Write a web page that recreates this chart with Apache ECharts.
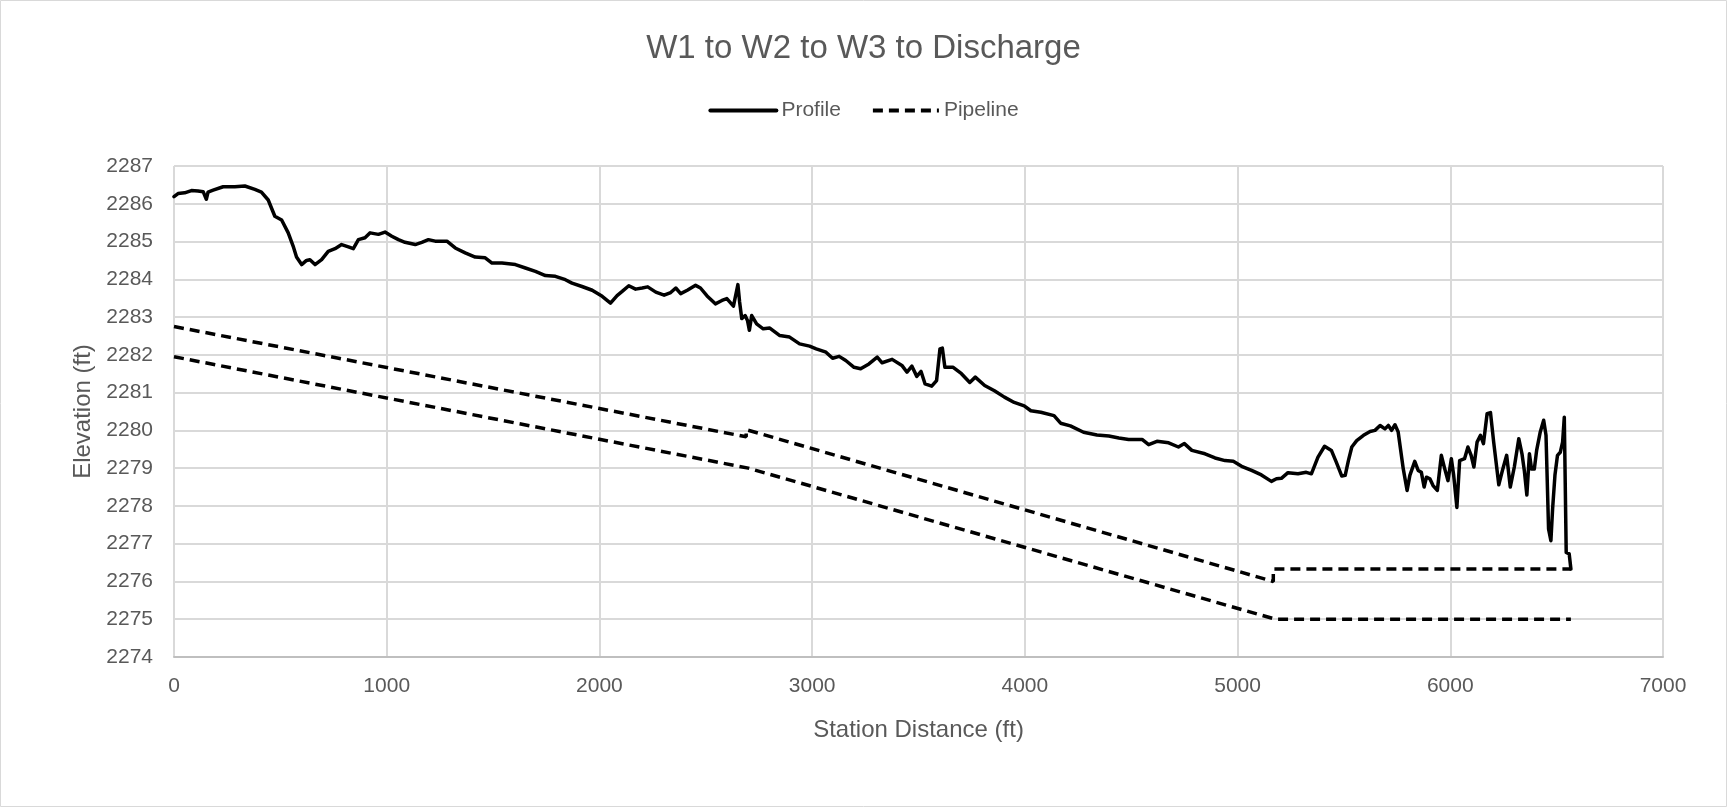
<!DOCTYPE html>
<html>
<head>
<meta charset="utf-8">
<title>W1 to W2 to W3 to Discharge</title>
<script src="https://cdn.jsdelivr.net/npm/echarts@6.0.0/dist/echarts.min.js"></script>
<style>
  html, body { margin: 0; padding: 0; background: #fff; }
  #chart { width: 1727px; height: 807px; }
</style>
</head>
<body>
<div id="chart"></div>
<script>
// ground profile (station ft, elevation ft)
const profileStation = [
  0, 19, 50, 82, 113, 137, 152, 160, 184, 231, 286, 333, 380, 411, 443, 474, 506, 537, 560, 576,
  600, 623, 639, 663, 694, 725, 757, 788, 820, 843, 867, 898, 922, 961, 992, 1024, 1055, 1086, 1134, 1165,
  1196, 1228, 1283, 1322, 1369, 1416, 1463, 1495, 1542, 1605, 1652, 1699, 1746, 1793, 1840, 1871, 1918, 1966, 2013, 2052,
  2083, 2107, 2138, 2170, 2201, 2227, 2265, 2304, 2335, 2359, 2382, 2413, 2452, 2475, 2506, 2545, 2576, 2599, 2630, 2651,
  2659, 2669, 2685, 2696, 2705, 2716, 2739, 2770, 2801, 2848, 2894, 2941, 2988, 3019, 3065, 3096, 3127, 3158, 3197, 3228,
  3267, 3306, 3329, 3376, 3422, 3446, 3469, 3492, 3512, 3531, 3562, 3585, 3601, 3612, 3624, 3663, 3702, 3741, 3767, 3811,
  3857, 3904, 3950, 3997, 4028, 4075, 4137, 4168, 4214, 4276, 4339, 4395, 4442, 4488, 4551, 4582, 4621, 4676, 4722, 4750,
  4785, 4847, 4894, 4941, 4980, 5019, 5066, 5112, 5159, 5183, 5206, 5237, 5284, 5323, 5347, 5378, 5409, 5441, 5464, 5490,
  5506, 5521, 5537, 5560, 5592, 5623, 5646, 5670, 5693, 5709, 5724, 5740, 5755, 5779, 5797, 5810, 5833, 5849, 5864, 5877,
  5888, 5904, 5919, 5939, 5958, 5974, 5989, 6005, 6016, 6031, 6044, 6067, 6083, 6098, 6111, 6126, 6142, 6156, 6173, 6189,
  6204, 6228, 6247, 6265, 6282, 6301, 6322, 6337, 6348, 6360, 6372, 6382, 6395, 6406, 6423, 6439, 6450, 6462, 6473, 6481,
  6492, 6504, 6517, 6528, 6536, 6545, 6559, 6567
];
const profileElevation = [
  2286.19, 2286.27, 2286.29, 2286.35, 2286.34, 2286.32, 2286.12, 2286.31, 2286.36, 2286.45, 2286.45, 2286.47, 2286.38, 2286.31, 2286.10, 2285.67, 2285.57, 2285.23, 2284.88, 2284.59,
  2284.39, 2284.50, 2284.52, 2284.39, 2284.52, 2284.74, 2284.81, 2284.92, 2284.86, 2284.81, 2285.05, 2285.10, 2285.23, 2285.19, 2285.25, 2285.14, 2285.05, 2284.98, 2284.92, 2284.98,
  2285.05, 2285.01, 2285.01, 2284.83, 2284.70, 2284.59, 2284.57, 2284.43, 2284.43, 2284.39, 2284.30, 2284.21, 2284.10, 2284.08, 2283.99, 2283.90, 2283.81, 2283.71, 2283.55, 2283.37,
  2283.57, 2283.68, 2283.83, 2283.74, 2283.77, 2283.80, 2283.66, 2283.58, 2283.65, 2283.77, 2283.62, 2283.71, 2283.84, 2283.77, 2283.56, 2283.35, 2283.44, 2283.49, 2283.29, 2283.86,
  2283.40, 2282.96, 2283.04, 2282.91, 2282.65, 2283.04, 2282.82, 2282.69, 2282.71, 2282.51, 2282.47, 2282.29, 2282.23, 2282.16, 2282.07, 2281.91, 2281.96, 2281.85, 2281.67, 2281.63,
  2281.76, 2281.94, 2281.79, 2281.88, 2281.72, 2281.54, 2281.70, 2281.43, 2281.56, 2281.23, 2281.17, 2281.32, 2282.16, 2282.18, 2281.67, 2281.67, 2281.50, 2281.27, 2281.41, 2281.19,
  2281.05, 2280.88, 2280.74, 2280.65, 2280.52, 2280.48, 2280.39, 2280.19, 2280.12, 2279.95, 2279.88, 2279.85, 2279.80, 2279.76, 2279.76, 2279.62, 2279.71, 2279.67, 2279.56, 2279.65,
  2279.47, 2279.38, 2279.27, 2279.20, 2279.18, 2279.05, 2278.94, 2278.82, 2278.65, 2278.72, 2278.73, 2278.88, 2278.85, 2278.89, 2278.85, 2279.29, 2279.58, 2279.47, 2279.16, 2278.79,
  2278.81, 2279.20, 2279.56, 2279.73, 2279.87, 2279.97, 2280.00, 2280.13, 2280.04, 2280.13, 2280.00, 2280.15, 2279.96, 2278.98, 2278.41, 2278.81, 2279.18, 2278.94, 2278.89, 2278.50,
  2278.76, 2278.72, 2278.54, 2278.41, 2279.34, 2278.98, 2278.67, 2279.25, 2278.81, 2277.96, 2279.20, 2279.25, 2279.56, 2279.34, 2279.03, 2279.69, 2279.87, 2279.65, 2280.44, 2280.47,
  2279.69, 2278.56, 2278.98, 2279.34, 2278.50, 2279.03, 2279.78, 2279.38, 2278.94, 2278.29, 2279.38, 2278.98, 2278.98, 2279.47, 2279.96, 2280.27, 2279.87, 2277.39, 2277.08, 2277.92,
  2278.81, 2279.34, 2279.42, 2279.69, 2280.35, 2276.77, 2276.73, 2276.33
];

// pipeline: top and bottom lines
const pipeTopStation = [0, 2690, 2690, 5168, 5168, 6567];
const pipeTopElevation = [2282.75, 2279.83, 2280.02, 2276.0, 2276.33, 2276.33];
const pipeBottomStation = [0, 2700, 5178, 6567];
const pipeBottomElevation = [2281.95, 2279.0, 2275.0, 2275.0];

// axis ticks
const stationTicks = { min: 0, max: 7000, interval: 1000 };
const elevationTicks = { min: 2274, max: 2287, interval: 1 };

const pairs = (xs, ys) => xs.map((x, i) => [x, ys[i]]);

const FONT = "'Liberation Sans', Arial, sans-serif";
const TEXT = '#595959';
const GRID = '#d9d9d9';
const DASH = [10, 6];

const chart = echarts.init(document.getElementById('chart'), null, { renderer: 'canvas' });

chart.setOption({
  animation: false,
  backgroundColor: '#fff',
  textStyle: { fontFamily: FONT },
  title: {
    text: 'W1 to W2 to W3 to Discharge',
    left: 'center',
    top: 27,
    textStyle: { fontFamily: FONT, fontSize: 33, fontWeight: 'normal', color: TEXT }
  },
  legend: {
    top: 95,
    left: 'center',
    itemWidth: 66,
    itemHeight: 14,
    itemGap: 30,
    // line only, no marker in the key
    itemStyle: { opacity: 0, borderWidth: 0 },
    lineStyle: { width: 4 },
    textStyle: { fontFamily: FONT, fontSize: 21, color: TEXT },
    data: ['Profile', 'Pipeline']
  },
  grid: { left: 174, right: 64, top: 166, bottom: 150, containLabel: false },
  xAxis: {
    type: 'value',
    min: stationTicks.min,
    max: stationTicks.max,
    interval: stationTicks.interval,
    name: 'Station Distance (ft)',
    nameLocation: 'middle',
    nameGap: 61,
    nameTextStyle: { fontFamily: FONT, fontSize: 24, color: TEXT },
    axisLine: { show: true, lineStyle: { color: '#bfbfbf', width: 2 } },
    axisTick: { show: false },
    axisLabel: { fontFamily: FONT, fontSize: 21, color: TEXT, margin: 19, formatter: v => String(v) },
    splitLine: { show: true, lineStyle: { color: GRID, width: 2 } }
  },
  yAxis: {
    type: 'value',
    min: elevationTicks.min,
    max: elevationTicks.max,
    interval: elevationTicks.interval,
    name: 'Elevation (ft)',
    nameLocation: 'middle',
    nameRotate: 90,
    nameGap: 78,
    nameTextStyle: { fontFamily: FONT, fontSize: 24, color: TEXT },
    axisLine: { show: false },
    axisTick: { show: false },
    axisLabel: { fontFamily: FONT, fontSize: 21, color: TEXT, margin: 21, formatter: v => String(v) },
    splitLine: { show: true, lineStyle: { color: GRID, width: 2 } }
  },
  graphic: [{
    type: 'rect',
    silent: true,
    shape: { x: 0.5, y: 0.5, width: 1726, height: 806 },
    style: { fill: 'none', stroke: '#d9d9d9', lineWidth: 1 }
  }],
  series: [
    {
      name: 'Profile',
      type: 'line',
      data: pairs(profileStation, profileElevation),
      symbol: 'none',
      color: '#000',
      lineStyle: { color: '#000', width: 3.5, join: 'round', cap: 'round' },
      z: 3
    },
    {
      name: 'Pipeline',
      type: 'line',
      data: pairs(pipeTopStation, pipeTopElevation),
      symbol: 'none',
      color: '#000',
      lineStyle: { color: '#000', width: 3.5, type: DASH },
      z: 2
    },
    {
      name: 'Pipeline',
      type: 'line',
      data: pairs(pipeBottomStation, pipeBottomElevation),
      symbol: 'none',
      color: '#000',
      lineStyle: { color: '#000', width: 3.5, type: DASH },
      z: 2
    }
  ]
});
</script>
</body>
</html>
